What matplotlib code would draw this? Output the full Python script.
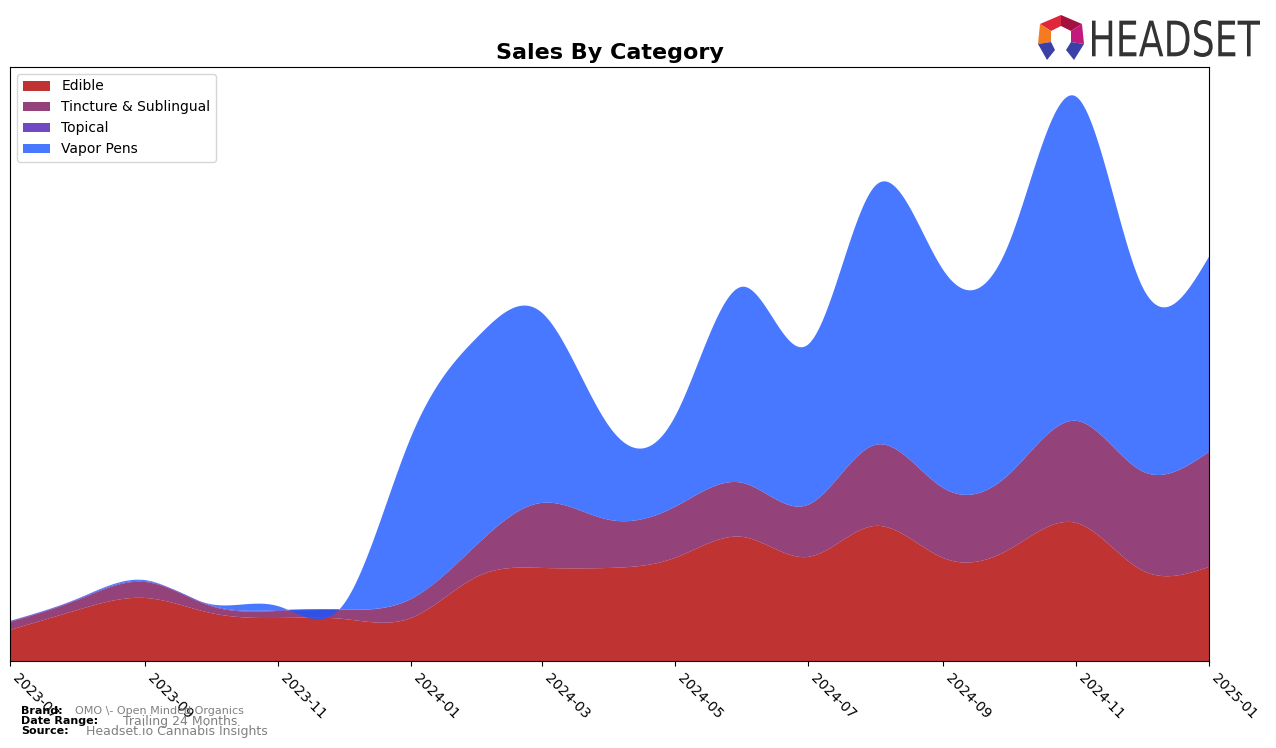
import numpy as np
import pandas as pd
import matplotlib
matplotlib.use("Agg")
import matplotlib.pyplot as plt
import matplotlib.dates as mdates
from matplotlib.textpath import TextPath
from matplotlib.patches import PathPatch, Polygon
from matplotlib.font_manager import FontProperties
from matplotlib.transforms import Affine2D

# monthly sales (relative units)
months = pd.date_range("2023-07-01", "2025-01-01", freq="MS")
categories = ["Edible", "Tincture & Sublingual", "Topical", "Vapor Pens"]
edible = [31, 51, 63, 48, 43, 42, 43, 85, 93, 93, 103, 124, 104, 135, 103, 111, 138, 91, 94]
tincture = [8, 10, 16, 7, 7, 9, 19, 33, 65, 48, 51, 54, 52, 81, 70, 75, 102, 99, 115]
topical = [0.8, 0.8, 0.8, 0.8, 0.8, 0.5, 0, 0, 0, 0, 0, 0, 0, 0, 0, 0, 0, 0, 0]
vapor_pens = [0.3, 0.5, 1, 1, 4, 5, 162, 207, 190, 93, 90, 196, 160, 259, 218, 230, 324, 186, 195]

colors = ["#b10000", "#7a1359", "#4c1cb5", "#1a56ff"]


def smooth(x, y, xs):
    # natural cubic spline through the monthly points, for drawing only
    x = np.asarray(x, float)
    y = np.asarray(y, float)
    n = len(x)
    h = np.diff(x)
    A = np.zeros((n, n))
    b = np.zeros(n)
    A[0, 0] = 1
    A[-1, -1] = 1
    for i in range(1, n - 1):
        A[i, i - 1] = h[i - 1]
        A[i, i] = 2 * (h[i - 1] + h[i])
        A[i, i + 1] = h[i]
        b[i] = 6 * ((y[i + 1] - y[i]) / h[i] - (y[i] - y[i - 1]) / h[i - 1])
    M = np.linalg.solve(A, b)
    idx = np.clip(np.searchsorted(x, xs) - 1, 0, n - 2)
    hi = h[idx]
    a = x[idx + 1] - xs
    t = xs - x[idx]
    return (M[idx] * a ** 3 / (6 * hi) + M[idx + 1] * t ** 3 / (6 * hi)
            + (y[idx] / hi - M[idx] * hi / 6) * a
            + (y[idx + 1] / hi - M[idx + 1] * hi / 6) * t)


x = mdates.date2num(months)
xs = np.linspace(x[0], x[-1], 800)
series = [smooth(x, s, xs) for s in (edible, tincture, topical, vapor_pens)]

fig = plt.figure(figsize=(12.76, 7.48), dpi=100)
ax = fig.add_axes([10 / 1276, 1 - 661 / 748, 1199 / 1276, 594 / 748])

ax.stackplot(mdates.num2date(xs), *series, labels=categories, colors=colors, alpha=0.8)

total = np.sum(series, axis=0)
ax.set_ylim(0, total.max() * 1.05)
ax.set_xlim(months[0], months[-1])
ax.set_yticks([])
ax.xaxis.set_major_locator(mdates.MonthLocator(bymonth=[1, 3, 5, 7, 9, 11]))
ax.xaxis.set_major_formatter(mdates.DateFormatter("%Y-%m"))
for lab in ax.get_xticklabels():
    lab.set_rotation(-45)
    lab.set_ha("left")
    lab.set_fontsize(10)

ax.set_title("Sales By Category", fontsize=16, fontweight="bold", pad=6)
ax.legend(loc="upper left", fontsize=10)

# footer
fig.text(21 / 1276, 1 - 711 / 748, "Brand:", fontsize=8, fontweight="bold", va="center")
fig.text(75 / 1276, 1 - 711 / 748, "OMO \\- Open Minded Organics", fontsize=8, color="gray", va="center")
fig.text(21 / 1276, 1 - 721 / 748, "Date Range:", fontsize=8, fontweight="bold", va="center")
fig.text(123 / 1276, 1 - 721 / 748, "Trailing 24 Months", fontsize=9, color="gray", va="center")
fig.text(21 / 1276, 1 - 731 / 748, "Source:", fontsize=8, fontweight="bold", va="center")
fig.text(86 / 1276, 1 - 731 / 748, "Headset.io Cannabis Insights", fontsize=9, color="gray", va="center")

# logo (pixel coordinates, origin top-left)
H = 748


def px(pts):
    return [(a, H - b) for a, b in pts]


logo_parts = [
    ([(1040, 24), (1061, 15), (1061, 26), (1051, 31)], "#e0263a"),
    ([(1061, 15), (1082, 24), (1071, 31), (1061, 26)], "#a3123f"),
    ([(1040, 24), (1051, 31), (1051, 42), (1038, 44)], "#f47b20"),
    ([(1082, 24), (1084, 44), (1071, 42), (1071, 31)], "#c2197f"),
    ([(1038, 44), (1051, 42), (1055, 50), (1047, 60)], "#3b3fa8"),
    ([(1071, 42), (1084, 44), (1074, 60), (1066, 50)], "#3b3fa8"),
]
for pts, c in logo_parts:
    fig.patches.append(Polygon(px(pts), closed=True, facecolor=c, edgecolor="none",
                               transform=None, figure=fig))

tp = TextPath((0, 0), "HEADSET", size=40, prop=FontProperties(family="DejaVu Sans"))
ext = tp.get_extents()
sx = 168 / ext.width
sy = 37 / ext.height
tr = Affine2D().translate(-ext.x0, -ext.y0).scale(sx, sy).translate(1092, H - 57)
fig.patches.append(PathPatch(tr.transform_path(tp), facecolor="#333333", edgecolor="none",
                             transform=None, figure=fig))

fig.savefig("out.png", dpi=100)
